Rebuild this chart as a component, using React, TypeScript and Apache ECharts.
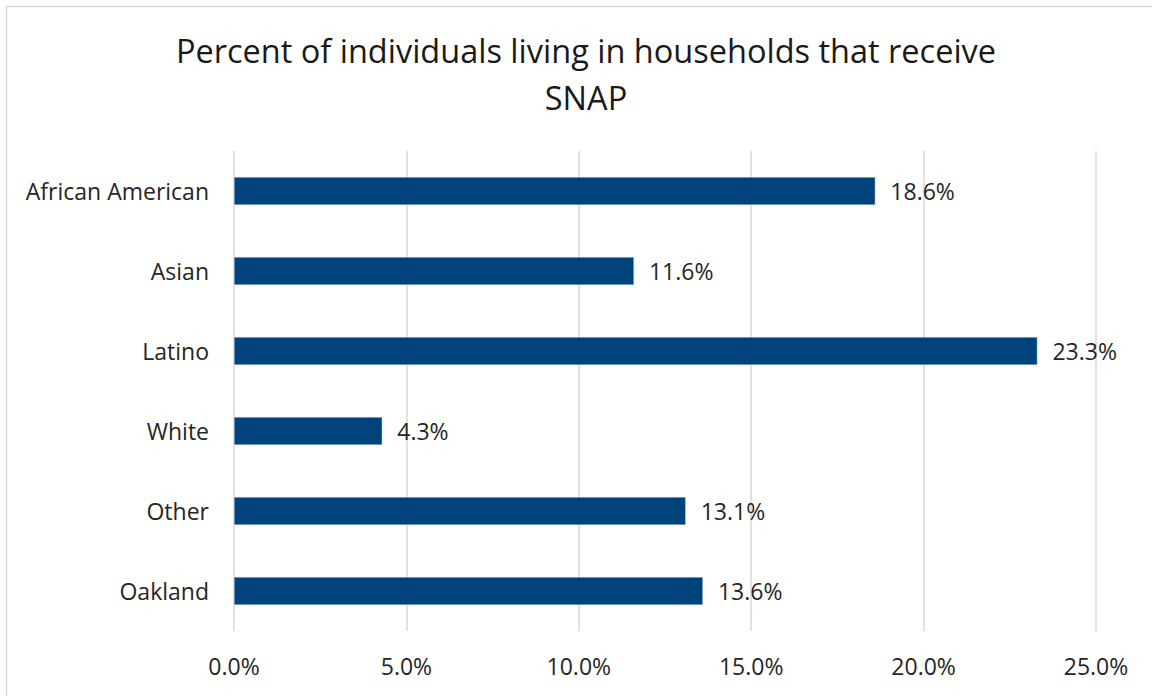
import React, { useEffect, useRef } from "react";
import * as echarts from "echarts";

const categories = ["African American", "Asian", "Latino", "White", "Other", "Oakland"];
const values = [18.6, 11.6, 23.3, 4.3, 13.1, 13.6];
const titleText = "Percent of individuals living in households that receive\nSNAP";

export default function App() {
  const ref = useRef<HTMLDivElement>(null);
  useEffect(() => {
    document.body.style.margin = "0";
    const chart = echarts.init(ref.current!, null, { renderer: "svg" });
    const font = "'Open Sans', sans-serif";
    chart.setOption({
      animation: false,
      backgroundColor: "#ffffff",
      textStyle: { fontFamily: font },
      graphic: [
        {
          type: "rect",
          shape: { x: 6.5, y: 6.5, width: 1160, height: 700 },
          style: { fill: "none", stroke: "#d9d9d9", lineWidth: 1.5 },
          silent: true,
        },
      ],
      title: {
        text: titleText,
        left: 581,
        textAlign: "center",
        top: 22,
        textStyle: { fontFamily: font, fontSize: 32.5, fontWeight: "normal", color: "#1a1a1a", lineHeight: 47 },
      },
      grid: { left: 234, right: 56, top: 151, height: 480, containLabel: false },
      xAxis: {
        type: "value",
        min: 0,
        max: 25,
        interval: 5,
        axisLine: { show: false },
        axisTick: { show: false },
        splitLine: { show: true, lineStyle: { color: "#d9d9d9", width: 1.5 } },
        axisLabel: {
          formatter: (v: number) => v.toFixed(1) + "%",
          fontSize: 23,
          color: "#262626",
          margin: 23,
          fontFamily: font,
        },
      },
      yAxis: {
        type: "category",
        data: categories,
        inverse: true,
        axisLine: { show: false },
        axisTick: { show: false },
        splitLine: { show: false },
        axisLabel: { fontSize: 23, color: "#262626", margin: 25, fontFamily: font },
      },
      series: [
        {
          type: "bar",
          data: values,
          barWidth: 28,
          itemStyle: { color: "#00437a", borderColor: "#b9d3ea", borderWidth: 0.5 },
          label: {
            show: true,
            position: "right",
            distance: 15,
            formatter: (p: any) => p.value.toFixed(1) + "%",
            fontSize: 23,
            color: "#262626",
            fontFamily: font,
          },
        },
      ],
    });
    return () => chart.dispose();
  }, []);
  return <div ref={ref} style={{ width: 1152, height: 696 }} />;
}
